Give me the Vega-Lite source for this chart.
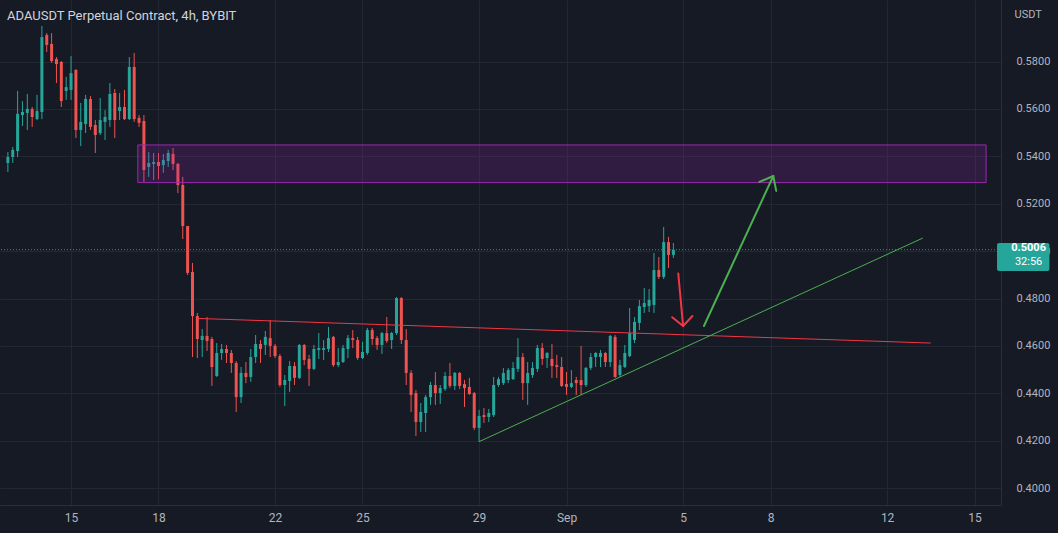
{
  "$schema": "https://vega.github.io/schema/vega-lite/v6.json",
  "width": 1001,
  "height": 505,
  "autosize": {"type": "none"},
  "padding": {"left": 0, "top": 0, "right": 57, "bottom": 28},
  "background": "#161a25",
  "config": {"view": {"stroke": null}, "font": "Roboto"},
  "title": {"text": "ADAUSDT Perpetual Contract, 4h, BYBIT", "anchor": "start", "orient": "top", "frame": "group", "offset": -33, "baseline": "alphabetic", "dx": 7, "fontSize": 13, "fontWeight": "normal", "color": "#d1d4dc", "font": "Roboto"},
  "datasets": {
    "candles": [
      {"t":"2022-08-12T20:00:00Z","o":0.5372,"h":0.5418,"l":0.5334,"c":0.5397},
      {"t":"2022-08-13T00:00:00Z","o":0.5397,"h":0.5439,"l":0.5372,"c":0.5427},
      {"t":"2022-08-13T04:00:00Z","o":0.5422,"h":0.5676,"l":0.5397,"c":0.5579},
      {"t":"2022-08-13T08:00:00Z","o":0.5574,"h":0.5633,"l":0.5528,"c":0.5587},
      {"t":"2022-08-13T12:00:00Z","o":0.5583,"h":0.5663,"l":0.5511,"c":0.5600},
      {"t":"2022-08-13T16:00:00Z","o":0.5600,"h":0.5608,"l":0.5524,"c":0.5566},
      {"t":"2022-08-13T20:00:00Z","o":0.5557,"h":0.5659,"l":0.5553,"c":0.5591},
      {"t":"2022-08-14T00:00:00Z","o":0.5587,"h":0.5950,"l":0.5557,"c":0.5903},
      {"t":"2022-08-14T04:00:00Z","o":0.5912,"h":0.5920,"l":0.5840,"c":0.5870},
      {"t":"2022-08-14T08:00:00Z","o":0.5874,"h":0.5920,"l":0.5794,"c":0.5802},
      {"t":"2022-08-14T12:00:00Z","o":0.5811,"h":0.5819,"l":0.5709,"c":0.5789},
      {"t":"2022-08-14T16:00:00Z","o":0.5798,"h":0.5802,"l":0.5608,"c":0.5633},
      {"t":"2022-08-14T20:00:00Z","o":0.5676,"h":0.5735,"l":0.5638,"c":0.5692},
      {"t":"2022-08-15T00:00:00Z","o":0.5680,"h":0.5823,"l":0.5638,"c":0.5751},
      {"t":"2022-08-15T04:00:00Z","o":0.5764,"h":0.5768,"l":0.5477,"c":0.5511},
      {"t":"2022-08-15T08:00:00Z","o":0.5511,"h":0.5625,"l":0.5443,"c":0.5545},
      {"t":"2022-08-15T12:00:00Z","o":0.5536,"h":0.5659,"l":0.5498,"c":0.5642},
      {"t":"2022-08-15T16:00:00Z","o":0.5642,"h":0.5654,"l":0.5511,"c":0.5524},
      {"t":"2022-08-15T20:00:00Z","o":0.5532,"h":0.5553,"l":0.5414,"c":0.5490},
      {"t":"2022-08-16T00:00:00Z","o":0.5498,"h":0.5646,"l":0.5490,"c":0.5553},
      {"t":"2022-08-16T04:00:00Z","o":0.5545,"h":0.5595,"l":0.5469,"c":0.5566},
      {"t":"2022-08-16T08:00:00Z","o":0.5553,"h":0.5709,"l":0.5524,"c":0.5663},
      {"t":"2022-08-16T12:00:00Z","o":0.5667,"h":0.5684,"l":0.5477,"c":0.5553},
      {"t":"2022-08-16T16:00:00Z","o":0.5591,"h":0.5667,"l":0.5553,"c":0.5608},
      {"t":"2022-08-16T20:00:00Z","o":0.5608,"h":0.5680,"l":0.5553,"c":0.5557},
      {"t":"2022-08-17T00:00:00Z","o":0.5557,"h":0.5819,"l":0.5553,"c":0.5777},
      {"t":"2022-08-17T04:00:00Z","o":0.5777,"h":0.5836,"l":0.5545,"c":0.5557},
      {"t":"2022-08-17T08:00:00Z","o":0.5562,"h":0.5574,"l":0.5524,"c":0.5541},
      {"t":"2022-08-17T12:00:00Z","o":0.5549,"h":0.5574,"l":0.5292,"c":0.5342},
      {"t":"2022-08-17T16:00:00Z","o":0.5355,"h":0.5418,"l":0.5313,"c":0.5372},
      {"t":"2022-08-17T20:00:00Z","o":0.5368,"h":0.5414,"l":0.5300,"c":0.5376},
      {"t":"2022-08-18T00:00:00Z","o":0.5376,"h":0.5414,"l":0.5304,"c":0.5359},
      {"t":"2022-08-18T04:00:00Z","o":0.5363,"h":0.5410,"l":0.5330,"c":0.5384},
      {"t":"2022-08-18T08:00:00Z","o":0.5380,"h":0.5427,"l":0.5355,"c":0.5414},
      {"t":"2022-08-18T12:00:00Z","o":0.5410,"h":0.5435,"l":0.5342,"c":0.5368},
      {"t":"2022-08-18T16:00:00Z","o":0.5368,"h":0.5372,"l":0.5245,"c":0.5279},
      {"t":"2022-08-18T20:00:00Z","o":0.5279,"h":0.5313,"l":0.5051,"c":0.5106},
      {"t":"2022-08-19T00:00:00Z","o":0.5106,"h":0.5106,"l":0.4899,"c":0.4908},
      {"t":"2022-08-19T04:00:00Z","o":0.4912,"h":0.4950,"l":0.4553,"c":0.4726},
      {"t":"2022-08-19T08:00:00Z","o":0.4726,"h":0.4739,"l":0.4549,"c":0.4629},
      {"t":"2022-08-19T12:00:00Z","o":0.4625,"h":0.4671,"l":0.4553,"c":0.4642},
      {"t":"2022-08-19T16:00:00Z","o":0.4642,"h":0.4722,"l":0.4579,"c":0.4621},
      {"t":"2022-08-19T20:00:00Z","o":0.4629,"h":0.4638,"l":0.4431,"c":0.4511},
      {"t":"2022-08-20T00:00:00Z","o":0.4473,"h":0.4612,"l":0.4469,"c":0.4570},
      {"t":"2022-08-20T04:00:00Z","o":0.4570,"h":0.4608,"l":0.4541,"c":0.4587},
      {"t":"2022-08-20T08:00:00Z","o":0.4587,"h":0.4604,"l":0.4528,"c":0.4570},
      {"t":"2022-08-20T12:00:00Z","o":0.4570,"h":0.4583,"l":0.4486,"c":0.4528},
      {"t":"2022-08-20T16:00:00Z","o":0.4528,"h":0.4536,"l":0.4321,"c":0.4384},
      {"t":"2022-08-20T20:00:00Z","o":0.4384,"h":0.4511,"l":0.4359,"c":0.4486},
      {"t":"2022-08-21T00:00:00Z","o":0.4486,"h":0.4532,"l":0.4443,"c":0.4469},
      {"t":"2022-08-21T04:00:00Z","o":0.4469,"h":0.4587,"l":0.4448,"c":0.4553},
      {"t":"2022-08-21T08:00:00Z","o":0.4553,"h":0.4646,"l":0.4528,"c":0.4608},
      {"t":"2022-08-21T12:00:00Z","o":0.4608,"h":0.4625,"l":0.4528,"c":0.4587},
      {"t":"2022-08-21T16:00:00Z","o":0.4604,"h":0.4663,"l":0.4562,"c":0.4638},
      {"t":"2022-08-21T20:00:00Z","o":0.4633,"h":0.4709,"l":0.4553,"c":0.4600},
      {"t":"2022-08-22T00:00:00Z","o":0.4600,"h":0.4608,"l":0.4549,"c":0.4557},
      {"t":"2022-08-22T04:00:00Z","o":0.4557,"h":0.4566,"l":0.4427,"c":0.4435},
      {"t":"2022-08-22T08:00:00Z","o":0.4435,"h":0.4477,"l":0.4346,"c":0.4456},
      {"t":"2022-08-22T12:00:00Z","o":0.4452,"h":0.4536,"l":0.4406,"c":0.4515},
      {"t":"2022-08-22T16:00:00Z","o":0.4515,"h":0.4532,"l":0.4435,"c":0.4465},
      {"t":"2022-08-22T20:00:00Z","o":0.4465,"h":0.4608,"l":0.4460,"c":0.4604},
      {"t":"2022-08-23T00:00:00Z","o":0.4604,"h":0.4608,"l":0.4519,"c":0.4541},
      {"t":"2022-08-23T04:00:00Z","o":0.4545,"h":0.4562,"l":0.4431,"c":0.4503},
      {"t":"2022-08-23T08:00:00Z","o":0.4503,"h":0.4604,"l":0.4498,"c":0.4587},
      {"t":"2022-08-23T12:00:00Z","o":0.4583,"h":0.4654,"l":0.4545,"c":0.4591},
      {"t":"2022-08-23T16:00:00Z","o":0.4583,"h":0.4625,"l":0.4541,"c":0.4591},
      {"t":"2022-08-23T20:00:00Z","o":0.4587,"h":0.4680,"l":0.4574,"c":0.4633},
      {"t":"2022-08-24T00:00:00Z","o":0.4638,"h":0.4642,"l":0.4511,"c":0.4519},
      {"t":"2022-08-24T04:00:00Z","o":0.4519,"h":0.4591,"l":0.4511,"c":0.4532},
      {"t":"2022-08-24T08:00:00Z","o":0.4532,"h":0.4604,"l":0.4528,"c":0.4591},
      {"t":"2022-08-24T12:00:00Z","o":0.4587,"h":0.4646,"l":0.4549,"c":0.4633},
      {"t":"2022-08-24T16:00:00Z","o":0.4633,"h":0.4667,"l":0.4591,"c":0.4625},
      {"t":"2022-08-24T20:00:00Z","o":0.4625,"h":0.4638,"l":0.4541,"c":0.4549},
      {"t":"2022-08-25T00:00:00Z","o":0.4549,"h":0.4617,"l":0.4545,"c":0.4574},
      {"t":"2022-08-25T04:00:00Z","o":0.4570,"h":0.4676,"l":0.4562,"c":0.4667},
      {"t":"2022-08-25T08:00:00Z","o":0.4667,"h":0.4676,"l":0.4604,"c":0.4629},
      {"t":"2022-08-25T12:00:00Z","o":0.4633,"h":0.4642,"l":0.4583,"c":0.4604},
      {"t":"2022-08-25T16:00:00Z","o":0.4604,"h":0.4659,"l":0.4566,"c":0.4654},
      {"t":"2022-08-25T20:00:00Z","o":0.4654,"h":0.4722,"l":0.4612,"c":0.4621},
      {"t":"2022-08-26T00:00:00Z","o":0.4625,"h":0.4659,"l":0.4587,"c":0.4654},
      {"t":"2022-08-26T04:00:00Z","o":0.4654,"h":0.4806,"l":0.4646,"c":0.4802},
      {"t":"2022-08-26T08:00:00Z","o":0.4802,"h":0.4806,"l":0.4608,"c":0.4625},
      {"t":"2022-08-26T12:00:00Z","o":0.4625,"h":0.4671,"l":0.4435,"c":0.4486},
      {"t":"2022-08-26T16:00:00Z","o":0.4486,"h":0.4498,"l":0.4321,"c":0.4393},
      {"t":"2022-08-26T20:00:00Z","o":0.4401,"h":0.4414,"l":0.4220,"c":0.4279},
      {"t":"2022-08-27T00:00:00Z","o":0.4279,"h":0.4359,"l":0.4237,"c":0.4321},
      {"t":"2022-08-27T04:00:00Z","o":0.4317,"h":0.4393,"l":0.4237,"c":0.4384},
      {"t":"2022-08-27T08:00:00Z","o":0.4384,"h":0.4448,"l":0.4351,"c":0.4435},
      {"t":"2022-08-27T12:00:00Z","o":0.4435,"h":0.4490,"l":0.4351,"c":0.4401},
      {"t":"2022-08-27T16:00:00Z","o":0.4401,"h":0.4435,"l":0.4355,"c":0.4422},
      {"t":"2022-08-27T20:00:00Z","o":0.4418,"h":0.4490,"l":0.4410,"c":0.4473},
      {"t":"2022-08-28T00:00:00Z","o":0.4473,"h":0.4528,"l":0.4422,"c":0.4431},
      {"t":"2022-08-28T04:00:00Z","o":0.4431,"h":0.4490,"l":0.4414,"c":0.4486},
      {"t":"2022-08-28T08:00:00Z","o":0.4486,"h":0.4490,"l":0.4418,"c":0.4431},
      {"t":"2022-08-28T12:00:00Z","o":0.4439,"h":0.4456,"l":0.4342,"c":0.4422},
      {"t":"2022-08-28T16:00:00Z","o":0.4427,"h":0.4465,"l":0.4393,"c":0.4397},
      {"t":"2022-08-28T20:00:00Z","o":0.4401,"h":0.4406,"l":0.4245,"c":0.4254},
      {"t":"2022-08-29T00:00:00Z","o":0.4254,"h":0.4330,"l":0.4195,"c":0.4304},
      {"t":"2022-08-29T04:00:00Z","o":0.4308,"h":0.4338,"l":0.4275,"c":0.4300},
      {"t":"2022-08-29T08:00:00Z","o":0.4300,"h":0.4334,"l":0.4279,"c":0.4317},
      {"t":"2022-08-29T12:00:00Z","o":0.4308,"h":0.4469,"l":0.4300,"c":0.4435},
      {"t":"2022-08-29T16:00:00Z","o":0.4435,"h":0.4469,"l":0.4427,"c":0.4460},
      {"t":"2022-08-29T20:00:00Z","o":0.4443,"h":0.4507,"l":0.4435,"c":0.4486},
      {"t":"2022-08-30T00:00:00Z","o":0.4456,"h":0.4507,"l":0.4443,"c":0.4498},
      {"t":"2022-08-30T04:00:00Z","o":0.4460,"h":0.4532,"l":0.4456,"c":0.4507},
      {"t":"2022-08-30T08:00:00Z","o":0.4503,"h":0.4633,"l":0.4490,"c":0.4553},
      {"t":"2022-08-30T12:00:00Z","o":0.4553,"h":0.4570,"l":0.4372,"c":0.4443},
      {"t":"2022-08-30T16:00:00Z","o":0.4443,"h":0.4532,"l":0.4351,"c":0.4486},
      {"t":"2022-08-30T20:00:00Z","o":0.4477,"h":0.4532,"l":0.4465,"c":0.4507},
      {"t":"2022-08-31T00:00:00Z","o":0.4503,"h":0.4604,"l":0.4490,"c":0.4591},
      {"t":"2022-08-31T04:00:00Z","o":0.4591,"h":0.4612,"l":0.4519,"c":0.4545},
      {"t":"2022-08-31T08:00:00Z","o":0.4549,"h":0.4574,"l":0.4507,"c":0.4570},
      {"t":"2022-08-31T12:00:00Z","o":0.4545,"h":0.4608,"l":0.4465,"c":0.4515},
      {"t":"2022-08-31T16:00:00Z","o":0.4519,"h":0.4562,"l":0.4465,"c":0.4511},
      {"t":"2022-08-31T20:00:00Z","o":0.4511,"h":0.4553,"l":0.4427,"c":0.4431},
      {"t":"2022-09-01T00:00:00Z","o":0.4439,"h":0.4490,"l":0.4393,"c":0.4427},
      {"t":"2022-09-01T04:00:00Z","o":0.4427,"h":0.4498,"l":0.4422,"c":0.4443},
      {"t":"2022-09-01T08:00:00Z","o":0.4456,"h":0.4469,"l":0.4393,"c":0.4443},
      {"t":"2022-09-01T12:00:00Z","o":0.4456,"h":0.4600,"l":0.4393,"c":0.4435},
      {"t":"2022-09-01T16:00:00Z","o":0.4435,"h":0.4511,"l":0.4427,"c":0.4507},
      {"t":"2022-09-01T20:00:00Z","o":0.4507,"h":0.4570,"l":0.4498,"c":0.4553},
      {"t":"2022-09-02T00:00:00Z","o":0.4553,"h":0.4574,"l":0.4511,"c":0.4570},
      {"t":"2022-09-02T04:00:00Z","o":0.4553,"h":0.4583,"l":0.4511,"c":0.4570},
      {"t":"2022-09-02T08:00:00Z","o":0.4570,"h":0.4574,"l":0.4511,"c":0.4532},
      {"t":"2022-09-02T12:00:00Z","o":0.4532,"h":0.4646,"l":0.4511,"c":0.4642},
      {"t":"2022-09-02T16:00:00Z","o":0.4638,"h":0.4646,"l":0.4465,"c":0.4469},
      {"t":"2022-09-02T20:00:00Z","o":0.4477,"h":0.4541,"l":0.4469,"c":0.4519},
      {"t":"2022-09-03T00:00:00Z","o":0.4511,"h":0.4604,"l":0.4507,"c":0.4570},
      {"t":"2022-09-03T04:00:00Z","o":0.4557,"h":0.4760,"l":0.4553,"c":0.4654},
      {"t":"2022-09-03T08:00:00Z","o":0.4625,"h":0.4722,"l":0.4612,"c":0.4701},
      {"t":"2022-09-03T12:00:00Z","o":0.4697,"h":0.4794,"l":0.4667,"c":0.4768},
      {"t":"2022-09-03T16:00:00Z","o":0.4764,"h":0.4844,"l":0.4739,"c":0.4781},
      {"t":"2022-09-03T20:00:00Z","o":0.4768,"h":0.4840,"l":0.4743,"c":0.4794},
      {"t":"2022-09-04T00:00:00Z","o":0.4773,"h":0.4992,"l":0.4739,"c":0.4920},
      {"t":"2022-09-04T04:00:00Z","o":0.4920,"h":0.4975,"l":0.4882,"c":0.4891},
      {"t":"2022-09-04T08:00:00Z","o":0.4891,"h":0.5102,"l":0.4882,"c":0.5038},
      {"t":"2022-09-04T12:00:00Z","o":0.5038,"h":0.5060,"l":0.4929,"c":0.4984},
      {"t":"2022-09-04T16:00:00Z","o":0.4984,"h":0.5034,"l":0.4971,"c":0.5006}
    ],
    "zone": [{"start":"2022-08-17T07:00:00Z","end":"2022-09-15T09:30:00Z","top":0.5448,"bottom":0.5289}],
    "redline": [{"t":"2022-08-19T07:45:00Z","p":0.4716},{"t":"2022-09-13T11:50:00Z","p":0.4612}],
    "greenline": [{"t":"2022-08-29T00:00:00Z","p":0.4196},{"t":"2022-09-13T05:20:00Z","p":0.5055}],
    "redarrow": [
      {"part":"shaft","seq":1,"t":"2022-09-04T20:00:00Z","p":0.4906},
      {"part":"shaft","seq":2,"t":"2022-09-05T00:00:00Z","p":0.4684},
      {"part":"head","seq":1,"t":"2022-09-04T15:00:00Z","p":0.4721},
      {"part":"head","seq":2,"t":"2022-09-05T00:00:00Z","p":0.4684},
      {"part":"head","seq":3,"t":"2022-09-05T07:40:00Z","p":0.4726}
    ],
    "greenarrow": [
      {"part":"shaft","seq":1,"t":"2022-09-05T17:10:00Z","p":0.4684},
      {"part":"shaft","seq":2,"t":"2022-09-08T02:15:00Z","p":0.5317},
      {"part":"head","seq":1,"t":"2022-09-07T14:50:00Z","p":0.5292},
      {"part":"head","seq":2,"t":"2022-09-08T02:15:00Z","p":0.5317},
      {"part":"head","seq":3,"t":"2022-09-08T04:40:00Z","p":0.5254}
    ],
    "last": [{"price":0.5006,"timer":"32:56"}]
  },
  "layer": [
    {
      "data": {"name": "candles"},
      "mark": {"type": "rule", "strokeWidth": 1},
      "encoding": {
        "x": {"field": "t", "type": "temporal",
          "scale": {"type": "utc", "domain": [{"year":2022,"month":8,"date":12,"hours":17,"minutes":37,"seconds":30,"utc":true},{"year":2022,"month":9,"date":15,"hours":17,"minutes":39,"utc":true}]},
          "axis": {"orient": "bottom", "title": null, "values": [
            {"year":2022,"month":8,"date":15,"utc":true},{"year":2022,"month":8,"date":18,"utc":true},{"year":2022,"month":8,"date":22,"utc":true},{"year":2022,"month":8,"date":25,"utc":true},{"year":2022,"month":8,"date":29,"utc":true},{"year":2022,"month":9,"date":1,"utc":true},{"year":2022,"month":9,"date":5,"utc":true},{"year":2022,"month":9,"date":8,"utc":true},{"year":2022,"month":9,"date":12,"utc":true},{"year":2022,"month":9,"date":15,"utc":true}],
            "labelExpr": "utcFormat(datum.value, '%d') == '01' ? 'Sep' : utcFormat(datum.value, '%-d')",
            "grid": true, "gridColor": "#232733", "ticks": false, "domain": true, "domainColor": "#2a2e39",
            "labelColor": "#b2b5be", "labelFontSize": 12, "labelFont": "Roboto", "labelPadding": 7, "labelFlush": false}},
        "y": {"field": "l", "type": "quantitative",
          "scale": {"domain": [0.39287, 0.60595], "nice": false, "zero": false},
          "axis": {"orient": "right", "title": "USDT", "values": [0.40,0.42,0.44,0.46,0.48,0.50,0.52,0.54,0.56,0.58], "format": ".4f",
            "grid": true, "gridColor": "#232733", "ticks": false, "domain": true, "domainColor": "#2a2e39",
            "labelColor": "#b2b5be", "labelFontSize": 11, "labelFont": "Roboto", "labelPadding": 15,
            "titleAngle": 0, "titleX": 13, "titleY": 14, "titleAlign": "left", "titleBaseline": "middle",
            "titleFontWeight": "normal", "titleFontSize": 11, "titleColor": "#b2b5be", "titleFont": "Roboto"}},
        "y2": {"field": "h"},
        "color": {"condition": {"test": "datum.c >= datum.o", "value": "#26a69a"}, "value": "#ef5350"}
      }
    },
    {
      "data": {"name": "candles"},
      "mark": {"type": "bar", "width": 3},
      "encoding": {
        "x": {"field": "t", "type": "temporal"},
        "y": {"field": "o", "type": "quantitative"},
        "y2": {"field": "c"},
        "color": {"condition": {"test": "datum.c >= datum.o", "value": "#26a69a"}, "value": "#ef5350"}
      }
    },
    {
      "data": {"name": "zone"},
      "mark": {"type": "rect", "fill": "#9c27b0", "fillOpacity": 0.2, "stroke": "#9c27b0", "strokeWidth": 1},
      "encoding": {
        "x": {"field": "start", "type": "temporal"},
        "x2": {"field": "end"},
        "y": {"field": "top", "type": "quantitative"},
        "y2": {"field": "bottom"}
      }
    },
    {
      "data": {"name": "last"},
      "mark": {"type": "rule", "stroke": "#26a69a", "strokeDash": [1, 2], "strokeWidth": 1, "opacity": 0.9},
      "encoding": {"y": {"field": "price", "type": "quantitative"}}
    },
    {
      "data": {"name": "redline"},
      "mark": {"type": "line", "stroke": "#f23645", "strokeWidth": 1},
      "encoding": {"x": {"field": "t", "type": "temporal"}, "y": {"field": "p", "type": "quantitative"}}
    },
    {
      "data": {"name": "greenline"},
      "mark": {"type": "line", "stroke": "#4caf50", "strokeWidth": 1},
      "encoding": {"x": {"field": "t", "type": "temporal"}, "y": {"field": "p", "type": "quantitative"}}
    },
    {
      "data": {"name": "redarrow"},
      "mark": {"type": "line", "stroke": "#f23645", "strokeWidth": 2, "strokeCap": "round", "strokeJoin": "round"},
      "encoding": {"x": {"field": "t", "type": "temporal"}, "y": {"field": "p", "type": "quantitative"}, "detail": {"field": "part"}, "order": {"field": "seq"}}
    },
    {
      "data": {"name": "greenarrow"},
      "mark": {"type": "line", "stroke": "#4caf50", "strokeWidth": 2, "strokeCap": "round", "strokeJoin": "round"},
      "encoding": {"x": {"field": "t", "type": "temporal"}, "y": {"field": "p", "type": "quantitative"}, "detail": {"field": "part"}, "order": {"field": "seq"}}
    },
    {
      "data": {"name": "last"},
      "mark": {"type": "rect", "fill": "#26a69a", "cornerRadius": 2},
      "encoding": {
        "x": {"datum": {"year":2022,"month":9,"date":15,"hours":18,"minutes":30,"utc":true}, "type": "temporal"},
        "x2": {"datum": {"year":2022,"month":9,"date":17,"hours":13,"minutes":40,"utc":true}},
        "y": {"datum": 0.5034, "type": "quantitative"},
        "y2": {"datum": 0.4916}
      }
    },
    {
      "data": {"name": "last"},
      "mark": {"type": "text", "color": "#ffffff", "fontWeight": "bold", "fontSize": 11, "font": "Roboto", "align": "center", "baseline": "middle", "dy": -2},
      "encoding": {
        "x": {"datum": {"year":2022,"month":9,"date":16,"hours":20,"minutes":30,"utc":true}, "type": "temporal"},
        "y": {"field": "price", "type": "quantitative"},
        "text": {"field": "price", "format": ".4f"}
      }
    },
    {
      "data": {"name": "last"},
      "mark": {"type": "text", "color": "#ffffff", "fontSize": 11, "font": "Roboto", "align": "center", "baseline": "middle", "dy": 12},
      "encoding": {
        "x": {"datum": {"year":2022,"month":9,"date":16,"hours":20,"minutes":30,"utc":true}, "type": "temporal"},
        "y": {"field": "price", "type": "quantitative"},
        "text": {"field": "timer"}
      }
    }
  ]
}
